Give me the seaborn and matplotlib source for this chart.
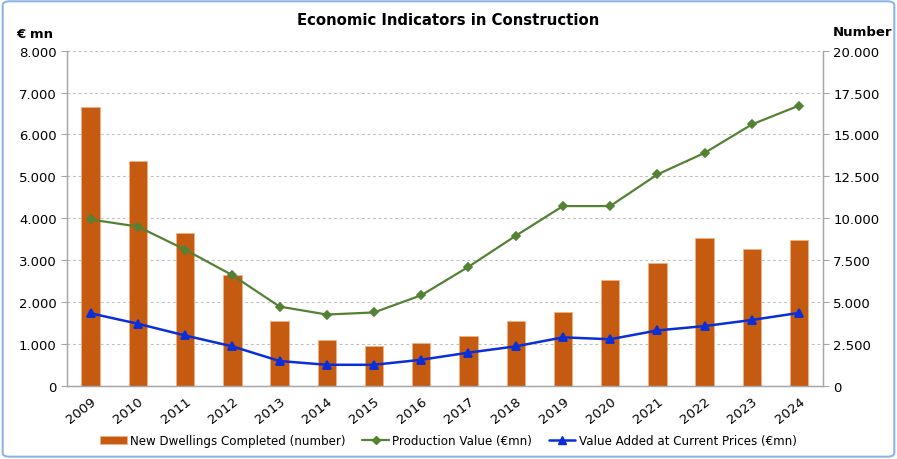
import matplotlib
matplotlib.use("Agg")
import matplotlib.pyplot as plt
import seaborn as sns
import pandas as pd
from matplotlib.ticker import FuncFormatter, MultipleLocator
from matplotlib.patches import Patch, FancyBboxPatch
from matplotlib.lines import Line2D

sns.set_style("white")
plt.rcParams["font.family"] = ["DejaVu Sans"]
plt.rcParams["text.color"] = "black"

# data
years = [str(y) for y in range(2009, 2025)]
dwellings = [16650, 13430, 9090, 6590, 3850, 2700, 2400, 2580,
             2990, 3870, 4400, 6330, 7340, 8810, 8160, 8670]
production = [3970, 3800, 3250, 2640, 1890, 1700, 1750, 2160,
              2840, 3580, 4290, 4290, 5045, 5560, 6240, 6690]
value_added = [1730, 1480, 1200, 940, 590, 500, 500, 620,
               790, 940, 1155, 1110, 1320, 1425, 1570, 1740]

bar_color = "#C55A11"
green = "#548235"
blue = "#0A2ED8"
axis_grey = "#A6A6A6"

df = pd.DataFrame({"Year": years, "Dwellings": dwellings,
                   "Production": production, "ValueAdded": value_added})

fig = plt.figure(figsize=(8.97, 4.60), dpi=100)
ax = fig.add_axes([0.0747, 0.1593, 0.9172 - 0.0747, 0.8876 - 0.1593])

# bars on the base axis (drawn behind), right-hand scale
sns.barplot(data=df, x="Year", y="Dwellings", color=bar_color, width=0.39,
            edgecolor="#F4B183", linewidth=0.6, saturation=1, ax=ax)
ax.set_ylim(0, 20000)
ax.yaxis.set_major_locator(MultipleLocator(2500))

# lines on the twin axis, left-hand scale
ax2 = ax.twinx()
sns.pointplot(data=df, x="Year", y="Production", color=green, markers="D",
              markersize=4, linewidth=1.6, ax=ax2)
sns.pointplot(data=df, x="Year", y="ValueAdded", color=blue, markers="^",
              markersize=6, linewidth=1.8, ax=ax2)
ax2.set_ylim(0, 8000)
ax2.yaxis.set_major_locator(MultipleLocator(1000))
ax2.set_xlim(-0.5, len(years) - 0.5)

# swap sides: bars scale on the right, lines scale on the left
ax.yaxis.tick_right()
ax.yaxis.set_label_position("right")
ax2.yaxis.tick_left()
ax2.yaxis.set_label_position("left")

fmt = FuncFormatter(lambda v, p: f"{v:,.0f}".replace(",", "."))
ax.yaxis.set_major_formatter(fmt)
ax2.yaxis.set_major_formatter(fmt)

ax.grid(axis="y", color="#BFBFBF", linestyle=(0, (2.5, 2.5)), linewidth=0.8)
ax.set_axisbelow(True)

for a in (ax, ax2):
    a.set_xlabel("")
    a.set_ylabel("")
    a.spines["top"].set_visible(False)
    for s in ("left", "right", "bottom"):
        a.spines[s].set_color(axis_grey)
        a.spines[s].set_linewidth(0.9)
    a.tick_params(axis="y", labelsize=9.5, colors=axis_grey, labelcolor="black",
                  length=4, width=0.8, direction="out")

# x ticks: labels at categories, tick marks between categories
ax.set_xticks(range(len(years)))
ax.set_xticklabels(years, rotation=38, ha="right", rotation_mode="anchor",
                   fontsize=9.5, color="black")
ax.tick_params(axis="x", length=0, pad=6)
ax.set_xticks([i - 0.5 for i in range(len(years) + 1)], minor=True)
ax.tick_params(axis="x", which="minor", length=5, width=0.8, colors=axis_grey,
               direction="out")
ax2.tick_params(axis="x", which="both", length=0, labelbottom=False)

fig.text(0.5, 0.955, "Economic Indicators in Construction", ha="center",
         va="center", fontsize=10.7, fontweight="bold")
fig.text(0.018, 0.925, "€ mn", ha="left", va="center", fontsize=9.5,
         fontweight="bold")
fig.text(0.928, 0.930, "Number", ha="left", va="center", fontsize=9.5,
         fontweight="bold")

handles = [
    Patch(facecolor=bar_color, edgecolor="#F4B183", linewidth=0.6),
    Line2D([], [], color=green, marker="D", markersize=4, linewidth=1.6),
    Line2D([], [], color=blue, marker="^", markersize=6, linewidth=1.8),
]
labels = ["New Dwellings Completed (number)", "Production Value (€mn)",
          "Value Added at Current Prices (€mn)"]
fig.legend(handles, labels, loc="center", bbox_to_anchor=(0.5, 0.04), ncol=3,
           frameon=False, fontsize=8.6, handlelength=2.2, handletextpad=0.3,
           columnspacing=1.4)

border = FancyBboxPatch((0.003, 0.005), 0.994, 0.99, transform=fig.transFigure,
                        boxstyle="round,pad=0,rounding_size=0.008",
                        facecolor="none", edgecolor="#8EB4E3", linewidth=1.5)
fig.patches.append(border)

fig.savefig("out.png", dpi=100)
